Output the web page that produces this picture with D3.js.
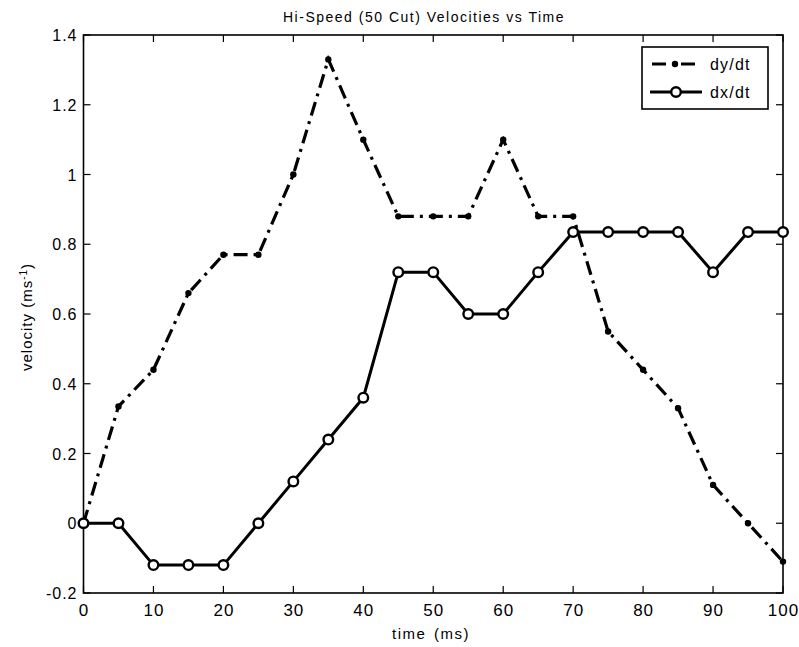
<!DOCTYPE html>
<html><head><meta charset="utf-8">
<script src="https://cdn.jsdelivr.net/npm/d3@7"></script>
<style>body{margin:0;background:#fff}svg{display:block}text{font-family:"Liberation Sans",Arial,sans-serif;fill:#000}</style>
</head><body><svg id="c" width="799" height="647"></svg>
<script>
const time = [0,5,10,15,20,25,30,35,40,45,50,55,60,65,70,75,80,85,90,95,100];
const dydt = [0,0.335,0.44,0.66,0.77,0.77,1.0,1.33,1.1,0.88,0.88,0.88,1.1,0.88,0.88,0.55,0.44,0.33,0.11,0.0,-0.11];
const dxdt = [0,0,-0.12,-0.12,-0.12,0,0.12,0.24,0.36,0.72,0.72,0.60,0.60,0.72,0.835,0.835,0.835,0.835,0.72,0.835,0.835];
const xTicks = [0,10,20,30,40,50,60,70,80,90,100];
const yTicks = [-0.2,0,0.2,0.4,0.6,0.8,1,1.2,1.4];
const seriesNames = ["dy/dt","dx/dt"];

const L=83.5,R=783,T=35,B=593;
const svg=d3.select("#c");
const x=d3.scaleLinear().domain([0,100]).range([L,R]);
const y=d3.scaleLinear().domain([-0.2,1.4]).range([B,T]);
const fmt=d=>String(+d.toFixed(1));

// ticks (inward, all four sides)
const tl=7;
const g=svg.append("g").attr("stroke","#000").attr("stroke-width",1.2);
xTicks.forEach(t=>{
  g.append("line").attr("x1",x(t)).attr("x2",x(t)).attr("y1",B).attr("y2",B-tl);
  g.append("line").attr("x1",x(t)).attr("x2",x(t)).attr("y1",T).attr("y2",T+tl);
});
yTicks.forEach(t=>{
  g.append("line").attr("y1",y(t)).attr("y2",y(t)).attr("x1",L).attr("x2",L+tl);
  g.append("line").attr("y1",y(t)).attr("y2",y(t)).attr("x1",R).attr("x2",R-tl);
});
svg.append("rect").attr("x",L).attr("y",T).attr("width",R-L).attr("height",B-T)
  .attr("fill","none").attr("stroke","#000").attr("stroke-width",1.6);

svg.append("g").selectAll("text").data(xTicks).join("text")
  .attr("x",d=>x(d)+0.5).attr("y",B+23).attr("text-anchor","middle").attr("font-size",17).attr("letter-spacing",1).text(d=>d);
svg.append("g").selectAll("text").data(yTicks).join("text")
  .attr("x",L-6).attr("y",d=>y(d)+6).attr("text-anchor","end").attr("font-size",16).attr("letter-spacing",1).text(d=>fmt(d));

svg.append("text").attr("x",424).attr("y",22).attr("text-anchor","middle").attr("font-size",14).attr("letter-spacing",1.5).text("Hi-Speed (50 Cut) Velocities vs Time");
svg.append("text").attr("x",431).attr("y",639).attr("text-anchor","middle").attr("font-size",15).attr("letter-spacing",1.5).attr("word-spacing",2).text("time (ms)");
const yl=svg.append("text").attr("transform",`translate(32,${(T+B)/2+3}) rotate(-90)`).attr("text-anchor","middle").attr("font-size",15).attr("letter-spacing",1);
yl.append("tspan").text("velocity (ms");
yl.append("tspan").attr("font-size",10).attr("dy",-5).text("-1");
yl.append("tspan").attr("dy",5).text(")");

const line=d3.line().x(d=>x(d[0])).y(d=>y(d[1]));
const dyPts=time.map((t,i)=>[t,dydt[i]]);
const dxPts=time.map((t,i)=>[t,dxdt[i]]);

svg.append("path").attr("d",line(dyPts)).attr("fill","none").attr("stroke","#000")
  .attr("stroke-width",3.2).attr("stroke-dasharray","14,6,3,6");
svg.append("g").selectAll("circle").data(dyPts).join("circle")
  .attr("cx",d=>x(d[0])).attr("cy",d=>y(d[1])).attr("r",3.2).attr("fill","#000");

svg.append("path").attr("d",line(dxPts)).attr("fill","none").attr("stroke","#000").attr("stroke-width",3);
svg.append("g").selectAll("circle").data(dxPts).join("circle")
  .attr("cx",d=>x(d[0])).attr("cy",d=>y(d[1])).attr("r",4.8).attr("fill","#fff").attr("stroke","#000").attr("stroke-width",2.4);

// legend
const lg=svg.append("g");
lg.append("rect").attr("x",642).attr("y",47).attr("width",126).attr("height",62).attr("fill","#fff").attr("stroke","#000").attr("stroke-width",1.6);
lg.append("line").attr("x1",650).attr("x2",701).attr("y1",64).attr("y2",64).attr("stroke","#000").attr("stroke-width",3.2).attr("stroke-dasharray","14,6,3,6").attr("stroke-dashoffset",-2);
lg.append("circle").attr("cx",675).attr("cy",64).attr("r",3.2).attr("fill","#000");
lg.append("line").attr("x1",650).attr("x2",702).attr("y1",92).attr("y2",92).attr("stroke","#000").attr("stroke-width",3);
lg.append("circle").attr("cx",676).attr("cy",92).attr("r",4.8).attr("fill","#fff").attr("stroke","#000").attr("stroke-width",2.4);
lg.append("text").attr("x",710).attr("y",70).attr("font-size",16).attr("letter-spacing",1.2).text(seriesNames[0]);
lg.append("text").attr("x",710).attr("y",98).attr("font-size",16).attr("letter-spacing",1.2).text(seriesNames[1]);
</script></body></html>
